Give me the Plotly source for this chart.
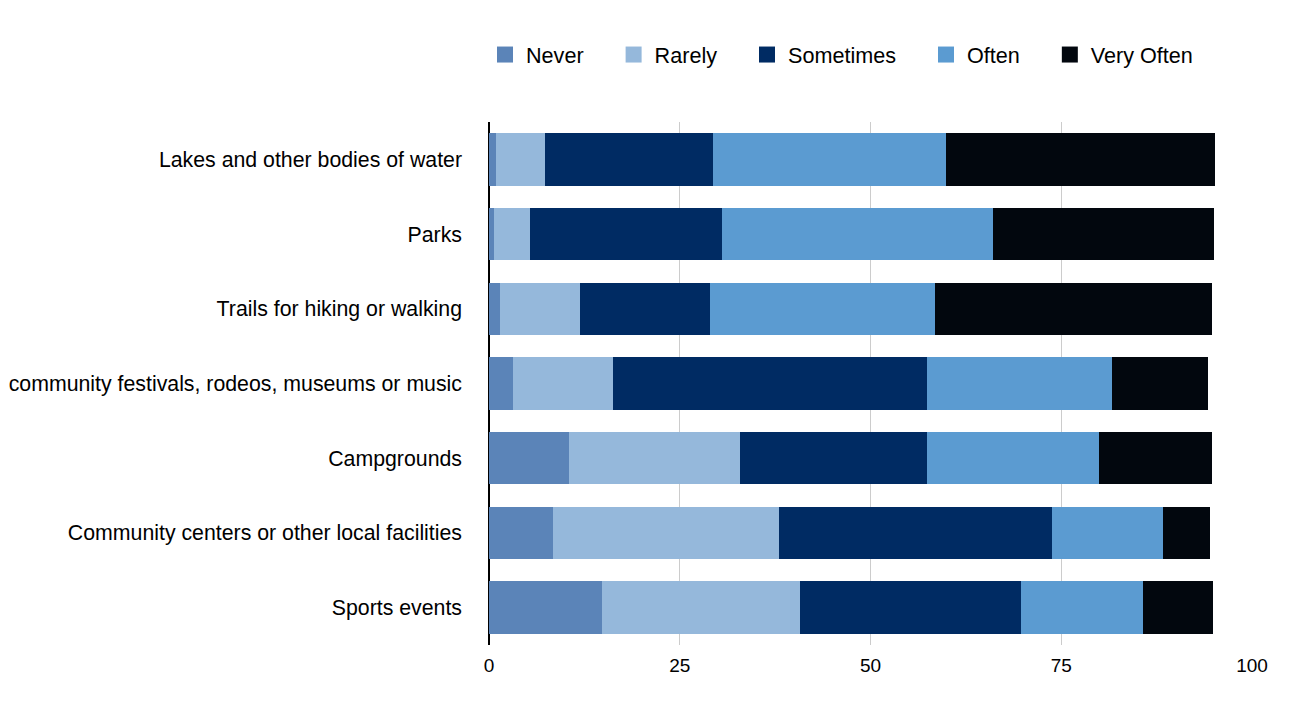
import plotly.graph_objects as go

categories = [
    "Lakes and other bodies of water",
    "Parks",
    "Trails for hiking or walking",
    "community festivals, rodeos, museums or music",
    "Campgrounds",
    "Community centers or other local facilities",
    "Sports events",
]

never = [0.9, 0.65, 1.5, 3.1, 10.5, 8.4, 14.85]
rarely = [6.5, 4.75, 10.4, 13.1, 22.4, 29.6, 25.9]
sometimes = [21.9, 25.2, 17.0, 41.2, 24.5, 35.8, 29.0]
often = [30.6, 35.5, 29.5, 24.3, 22.5, 14.5, 16.0]
very_often = [35.3, 28.9, 36.4, 12.5, 14.8, 6.2, 9.2]

series_names = ["Never", "Rarely", "Sometimes", "Often", "Very Often"]
series_values = [never, rarely, sometimes, often, very_often]
series_colors = ["#5b84b8", "#95b8db", "#002b63", "#5b9bd1", "#02070e"]

x_ticks = [0, 25, 50, 75, 100]

FONT = "Liberation Sans, Arial, Helvetica, sans-serif"

fig = go.Figure()
for name, vals, col in zip(series_names, series_values, series_colors):
    fig.add_trace(go.Bar(
        y=categories, x=vals, name=name, orientation="h",
        marker=dict(color=col, line=dict(width=0)),
        showlegend=False,
    ))
# legend entries with larger square swatches
for name, col in zip(series_names, series_colors):
    fig.add_trace(go.Scatter(
        x=[None], y=[None], mode="markers", name=name + "\u00a0\u00a0\u00a0\u00a0",
        marker=dict(symbol="square", size=20, color=col),
        showlegend=True,
    ))

fig.update_layout(
    barmode="stack",
    bargap=0.30,
    width=1296, height=710,
    margin=dict(l=481, r=52, t=114, b=73),
    paper_bgcolor="white", plot_bgcolor="white",
    font=dict(family=FONT, size=21, color="#000000"),
    legend=dict(
        orientation="h", xref="container", yref="container",
        x=476 / 1296, y=1 - 26 / 710, xanchor="left", yanchor="top",
        font=dict(size=21.6, family=FONT), itemwidth=32,
        traceorder="normal",
    ),
    xaxis=dict(
        range=[0, 100], tickvals=x_ticks, ticktext=[str(v) for v in x_ticks],
        showgrid=True, gridcolor="#cccccc", gridwidth=1,
        zeroline=True, zerolinecolor="#000000", zerolinewidth=2,
        showline=False, ticks="", tickfont=dict(size=19, family=FONT),
        ticklabelstandoff=7, automargin=False,
        fixedrange=True,
    ),
    yaxis=dict(
        autorange="reversed", showgrid=False, showline=False, ticks="",
        ticklabelstandoff=26, tickfont=dict(size=21.3, family=FONT),
        automargin=False, fixedrange=True,
    ),
)

fig.write_html("out.html")
